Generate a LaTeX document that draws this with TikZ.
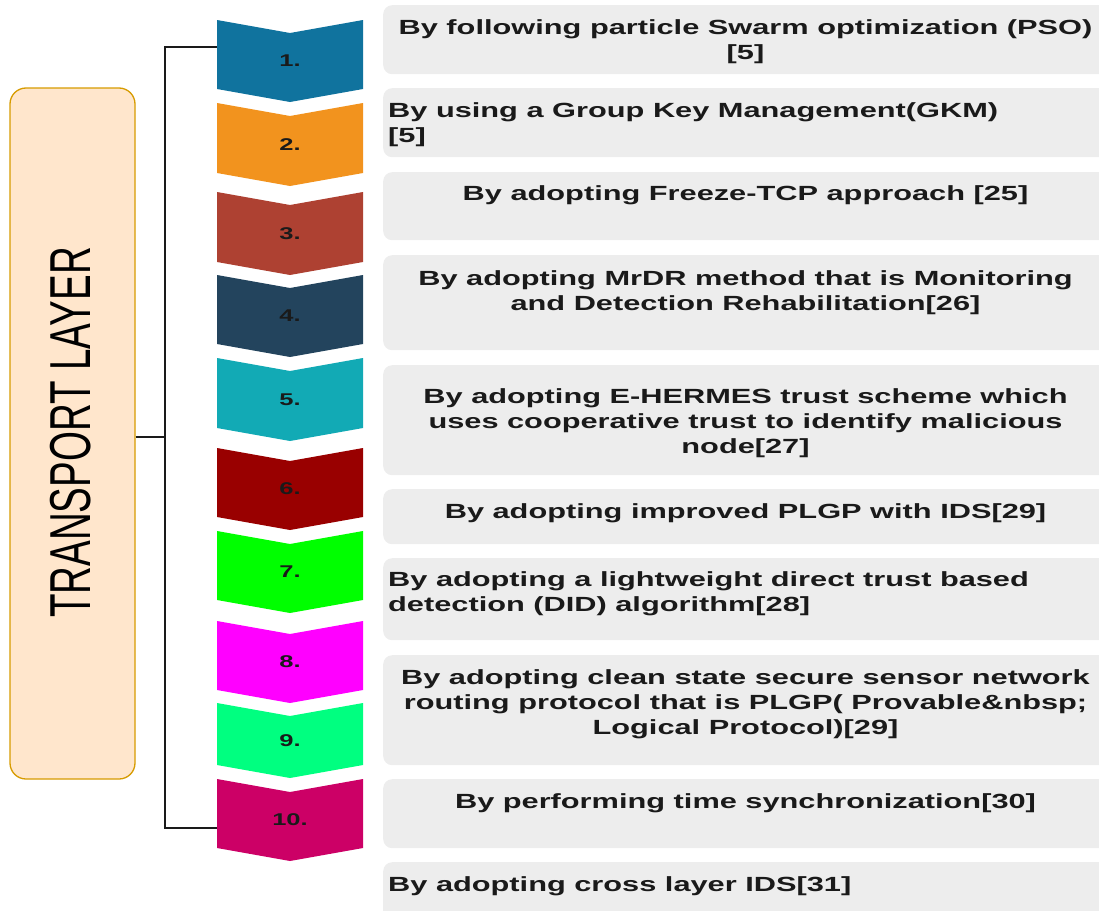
\documentclass[tikz,border=0pt]{standalone}
\usepackage{fontspec}
\setmainfont{Liberation Sans}
\usepackage{graphicx}

\definecolor{c1}{HTML}{10739E}
\definecolor{c2}{HTML}{F2931E}
\definecolor{c3}{HTML}{AE4132}
\definecolor{c4}{HTML}{23445D}
\definecolor{c5}{HTML}{12AAB5}
\definecolor{c6}{HTML}{990000}
\definecolor{c7}{HTML}{00FF00}
\definecolor{c8}{HTML}{FF00FF}
\definecolor{c9}{HTML}{00FF80}
\definecolor{c10}{HTML}{CC0066}
\definecolor{layerfill}{HTML}{FFE6CC}
\definecolor{layerline}{HTML}{D79B00}
\definecolor{panelgray}{HTML}{EDEDED}
\definecolor{ink}{HTML}{1A1A1A}

% horizontally widened lettering
\newcommand\wide[1]{\scalebox{1.5}[1]{#1}}
% centred / left-aligned multi-line text, first baseline on top
\newcommand\ctext[1]{\wide{\begin{tabular}[t]{@{}c@{}}#1\end{tabular}}}
\newcommand\ltext[1]{\wide{\begin{tabular}[t]{@{}l@{}}#1\end{tabular}}}

% chevron: #1 name, #2 top corners, #3 bottom corners, #4 colour, #5 number
\newcommand\mkchev[5]{%
  \fill[#4] (217,#2) -- (290,#2+13) -- (363,#2) -- (363,#3) -- (290,#3+13) -- (217,#3) -- cycle;
  \node[numlab, minimum height={#3+13-#2}] (#1) at (290,{(#2+#3+13)/2}) {\wide{#5}};
}

\begin{document}
\begin{tikzpicture}[x=1pt,y=-1pt,
  numlab/.style={minimum width=146pt, inner sep=0pt, text=ink,
    font={\fontsize{17}{20}\selectfont\bfseries}},
  panel/.style={fill=panelgray, draw=none, rounded corners=9pt, inner sep=0pt,
    anchor=north west, minimum width=735pt},
  body/.style={inner sep=0pt, text=ink, anchor=base,
    font={\fontsize{20.5}{25}\selectfont\bfseries}},
  layerbox/.style={fill=layerfill, draw=layerline, line width=1.3pt,
    rounded corners=16pt, minimum width=125pt, minimum height=691pt, inner sep=0pt},
  wire/.style={draw=ink, line width=2.2pt}]
\useasboundingbox (0,0) rectangle (1099,910);

% layer label
\node[layerbox] (lay) at (72.5,433.5) {};
\node[rotate=90, inner sep=0pt, text=black, font={\fontsize{38.5}{40}\selectfont}]
  (layname) at (71,432.5) {\scalebox{1}[1.5]{TRANSPORT LAYER}};

% chevrons
\mkchev{n1}{20}{89}{c1}{1.}
\mkchev{n2}{103}{173}{c2}{2.}
\mkchev{n3}{192}{262}{c3}{3.}
\mkchev{n4}{275}{344}{c4}{4.}
\mkchev{n5}{358}{428}{c5}{5.}
\mkchev{n6}{448}{517}{c6}{6.}
\mkchev{n7}{531}{600}{c7}{7.}
\mkchev{n8}{621}{690}{c8}{8.}
\mkchev{n9}{703}{765}{c9}{9.}
\mkchev{n10}{779}{848}{c10}{10.}

% bracket joining the layer to the chevron column
\coordinate (spine) at (165,437);
\draw[wire] ([yshift=14pt]n1.west) -| (spine) |- ([yshift=-8pt]n10.west);
\draw[wire] (lay.east |- spine) -- (spine);

% description panels
\node[panel, minimum height=69pt] (b1) at (383,5) {};
\node[panel, minimum height=69pt] (b2) at (383,88) {};
\node[panel, minimum height=68pt] (b3) at (383,172) {};
\node[panel, minimum height=95pt] (b4) at (383,255) {};
\node[panel, minimum height=110pt] (b5) at (383,365) {};
\node[panel, minimum height=55pt] (b6) at (383,489) {};
\node[panel, minimum height=82pt] (b7) at (383,558) {};
\node[panel, minimum height=110pt] (b8) at (383,655) {};
\node[panel, minimum height=69pt] (b9) at (383,779) {};
\node[panel, minimum height=70pt] (b10) at (383,862) {};

\node[body] (t1) at (745.5,34) {\ctext{By following particle Swarm optimization (PSO)\\ {[5]}}};
\node[body, anchor=base west] (t2) at (388,117) {\ltext{By using a Group Key Management(GKM)\\ {[5]}}};
\node[body] (t3) at (745.5,200) {\ctext{By adopting Freeze-TCP approach [25]}};
\node[body] (t4) at (745.5,285) {\ctext{By adopting MrDR method that is Monitoring\\ and Detection Rehabilitation[26]}};
\node[body] (t5) at (745.5,403) {\ctext{By adopting E-HERMES trust scheme which\\ uses cooperative trust to identify malicious\\ node[27]}};
\node[body] (t6) at (745.5,518) {\ctext{By adopting improved PLGP with IDS[29]}};
\node[body, anchor=base west] (t7) at (388,586) {\ltext{By adopting a lightweight direct trust based\\ detection (DID) algorithm[28]}};
\node[body] (t8) at (745.5,684) {\ctext{By adopting clean state secure sensor network\\ routing protocol that is PLGP( Provable\&nbsp;\\ Logical Protocol)[29]}};
\node[body] (t9) at (745.5,808) {\ctext{By performing time synchronization[30]}};
\node[body, anchor=base west] (t10) at (388,891) {\ltext{By adopting cross layer IDS[31]}};
\end{tikzpicture}
\end{document}
